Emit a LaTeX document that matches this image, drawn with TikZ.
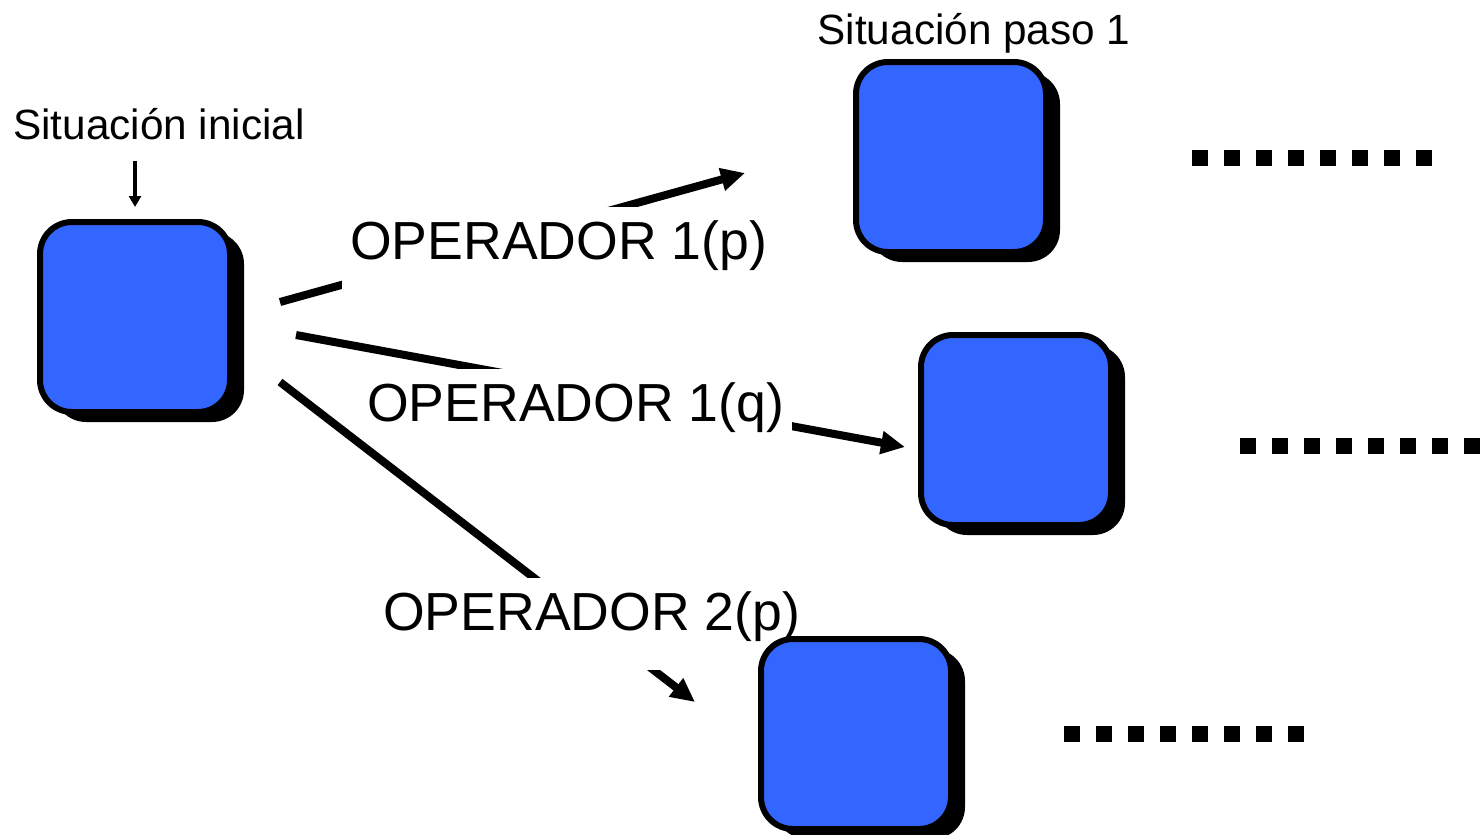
\documentclass[tikz,border=0pt]{standalone}
\usepackage{fontspec}
\setmainfont{Liberation Sans}
\usetikzlibrary{arrows.meta,shadows}
\definecolor{boxblue}{HTML}{3366FF}
\begin{document}
\begin{tikzpicture}[x=1pt,y=-1pt,
  bluebox/.style={draw=black, line width=6pt, fill=boxblue, rounded corners=32pt,
    minimum width=190pt, minimum height=190pt, inner sep=0pt,
    drop shadow={shadow xshift=14pt, shadow yshift=-10pt, fill=black, opacity=1}},
  oplabel/.style={fill=white, inner xsep=8pt, inner ysep=0pt, text height=52pt,
    text depth=40pt, anchor=base west, font=\fontsize{53.6}{60}\selectfont},
  sitlabel/.style={anchor=base, inner sep=0pt, font=\fontsize{42.3}{48}\selectfont},
  oparrow/.style={line width=8pt, -{Triangle[length=24pt,width=22pt]}},
  initarrow/.style={line width=3.5pt, -{Triangle[length=11pt,width=12pt]}},
  dotrow/.style={line width=16pt, dash pattern=on 16pt off 16pt}
]
\useasboundingbox (0,0) rectangle (1481,835);

% free ends of connectors
\coordinate (ia) at (135,161);
\coordinate (ib) at (135,207);
\coordinate (p1s) at (280,302);
\coordinate (p1e) at (745,173);
\coordinate (q1s) at (296,335);
\coordinate (q1e) at (905,447);
\coordinate (p2s) at (280,382);
\coordinate (p2e) at (695,702);
\coordinate (r1s) at (1192,158);
\coordinate (r1e) at (1432,158);
\coordinate (r2s) at (1240,446);
\coordinate (r2e) at (1480,446);
\coordinate (r3s) at (1064,734);
\coordinate (r3e) at (1304,734);

% situation labels
\node[sitlabel] (tini) at (159,139) {Situación inicial};
\node[sitlabel] (tpaso) at (974,44) {Situación paso 1};
\draw[initarrow] (ia) -- (ib);

% operator arrows and labels
\draw[oparrow] (p1s) -- (p1e);
\node[oplabel] (op1p) at (342,259) {OPERADOR 1(p)};
\draw[oparrow] (q1s) -- (q1e);
\node[oplabel] (op1q) at (359,421) {OPERADOR 1(q)};
\draw[oparrow] (p2s) -- (p2e);
\node[oplabel] (op2p) at (375,630) {OPERADOR 2(p)};

% situation boxes
\node[bluebox] (s0) at (135,317) {};
\node[bluebox] (s1) at (951,157) {};
\node[bluebox] (s2) at (1016,430) {};
\node[bluebox] (s3) at (856,734) {};

% continuation dots
\draw[dotrow] (r1s) -- (r1e);
\draw[dotrow] (r2s) -- (r2e);
\draw[dotrow] (r3s) -- (r3e);
\end{tikzpicture}
\end{document}
